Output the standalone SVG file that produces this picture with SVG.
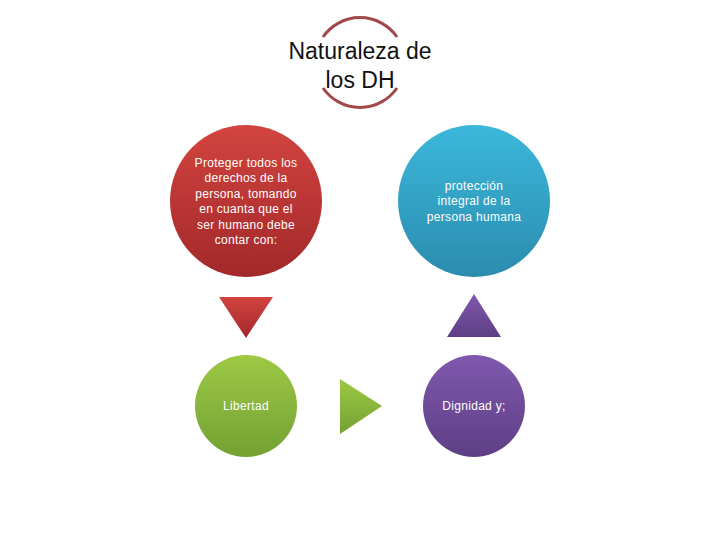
<svg xmlns="http://www.w3.org/2000/svg" width="720" height="540" viewBox="0 0 720 540">
<defs>
<linearGradient id="gRed" x1="0" y1="0" x2="0" y2="1"><stop offset="0" stop-color="#d2443f"/><stop offset="1" stop-color="#a2282a"/></linearGradient>
<linearGradient id="gBlue" x1="0" y1="0" x2="0" y2="1"><stop offset="0" stop-color="#3bb8db"/><stop offset="1" stop-color="#2b8cae"/></linearGradient>
<linearGradient id="gGreen" x1="0" y1="0" x2="0" y2="1"><stop offset="0" stop-color="#9dc944"/><stop offset="1" stop-color="#73a133"/></linearGradient>
<linearGradient id="gPurple" x1="0" y1="0" x2="0" y2="1"><stop offset="0" stop-color="#8058ad"/><stop offset="1" stop-color="#5e3f85"/></linearGradient>
<style>
.lbl{font-family:"Liberation Sans",Arial,sans-serif;font-size:12px;letter-spacing:0.3px;fill:#ffffff;text-anchor:middle}
.title{font-family:"Liberation Sans",Arial,sans-serif;font-size:23px;fill:#111111;text-anchor:middle}
</style>
</defs>
<rect width="720" height="540" fill="#ffffff"/>
<g id="title">
<path d="M323,37 A45,45 0 0 1 397,37" fill="none" stroke="#a0484a" stroke-width="3"/>
<path d="M323,88 A45,45 0 0 0 397,88" fill="none" stroke="#a0484a" stroke-width="3"/>
<text class="title" x="360" y="59">Naturaleza de</text>
<text class="title" x="360" y="88">los DH</text>
</g>
<g id="node-proteger">
<circle cx="246" cy="201" r="76" fill="url(#gRed)"/>
<text class="lbl" x="246" y="167">Proteger todos los</text>
<text class="lbl" x="246" y="182">derechos de la</text>
<text class="lbl" x="246" y="198">persona, tomando</text>
<text class="lbl" x="246" y="213">en  cuanta que el</text>
<text class="lbl" x="246" y="229">ser humano debe</text>
<text class="lbl" x="246" y="244">contar con:</text>
</g>
<g id="node-proteccion">
<circle cx="474" cy="201" r="76" fill="url(#gBlue)"/>
<text class="lbl" x="474" y="190">protección</text>
<text class="lbl" x="474" y="205">integral de la</text>
<text class="lbl" x="474" y="221">persona humana</text>
</g>
<g id="node-libertad">
<circle cx="246" cy="406" r="51" fill="url(#gGreen)"/>
<text class="lbl" x="246" y="410">Libertad</text>
</g>
<g id="node-dignidad">
<circle cx="474" cy="406" r="51" fill="url(#gPurple)"/>
<text class="lbl" x="474" y="410">Dignidad y;</text>
</g>
<g id="connectors">
<polygon points="219,297 273,297 246,338" fill="url(#gRed)"/>
<polygon points="340,379 382,406 340,434" fill="url(#gGreen)"/>
<polygon points="474,294 501,337 447,337" fill="url(#gPurple)"/>
</g>
</svg>
